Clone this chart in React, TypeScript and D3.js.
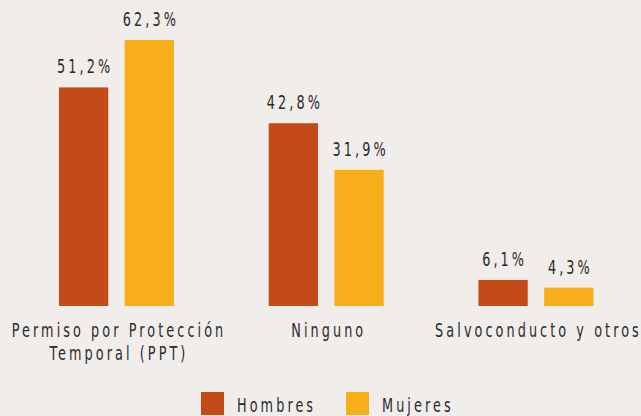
import React from "react";
import * as d3 from "d3";

const categories = ["Permiso por Protección|Temporal (PPT)", "Ninguno", "Salvoconducto y otros"];
const seriesNames = ["Hombres", "Mujeres"];
const hombres = [51.2, 42.8, 6.1];
const mujeres = [62.3, 31.9, 4.3];
const colors = ["#c44a18", "#f8ae1b"];

const W = 641, H = 416;
const FONT = "'DejaVu Sans Condensed', 'DejaVu Sans', sans-serif";
const SX = 0.75;
const LS = 4.1;

function T({ x, y, anchor = "middle", children }: { x: number; y: number; anchor?: string; children: React.ReactNode }) {
  const dx = anchor === "middle" ? LS / 2 : 0;
  return (
    <g transform={`translate(${x},${y}) scale(${SX},1)`}>
      <text x={dx} y={0} textAnchor={anchor} fontFamily={FONT} fontSize={19} letterSpacing={LS} fill="#2b2b2b">{children}</text>
    </g>
  );
}

export default function App() {
  const x = d3.scaleBand<string>().domain(categories).range([11.6, 640.8]).padding(0);
  const inner = d3.scaleBand<string>().domain(seriesNames).range([0, 115]).paddingInner(0.25);
  const y = d3.scaleLinear().domain([0, 62.3]).range([306, 40]);
  const values = [hombres, mujeres];
  const fmt = (v: number) => v.toFixed(1).replace(".", ",") + "%";
  return (
    <svg width={W} height={H} style={{ position: "absolute", left: 0, top: 0, background: "#f1edeb" }}>
      <rect x={0} y={0} width={W} height={H} fill="#f1edeb" />
      {categories.map((c, ci) => {
        const cx = (x(c) as number) + x.bandwidth() / 2;
        const gx = cx - 57.5;
        return (
          <g key={c}>
            {seriesNames.map((s, si) => {
              const v = values[si][ci];
              const bx = gx + (inner(s) as number);
              const bw = inner.bandwidth();
              return (
                <g key={s}>
                  <rect x={bx} y={y(v)} width={bw} height={y(0) - y(v)} fill={colors[si]} />
                  <T x={bx + bw / 2} y={y(v) - 14}>{fmt(v)}</T>
                </g>
              );
            })}
            {c.split("|").map((line, li) => (
              <T key={li} x={cx + 1} y={337 + li * 23}>{line}</T>
            ))}
          </g>
        );
      })}
      {seriesNames.map((s, si) => {
        const lx = [201, 346][si];
        return (
          <g key={s}>
            <rect x={lx} y={392} width={23} height={23} fill={colors[si]} />
            <T x={lx + 36} y={412} anchor="start">{s}</T>
          </g>
        );
      })}
    </svg>
  );
}
